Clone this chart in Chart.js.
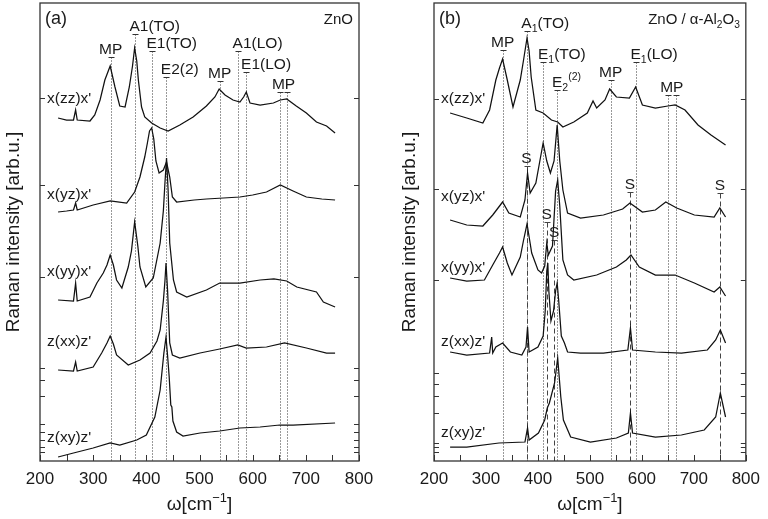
<!DOCTYPE html>
<html>
<head>
<meta charset="utf-8">
<script src="https://cdn.jsdelivr.net/npm/chart.js@4.4.0/dist/chart.umd.min.js"></script>
<style>
body { margin: 0; background: #fff; width: 768px; height: 519px; position: relative; overflow: hidden; }
.panel { position: absolute; top: 0; width: 384px; height: 519px; }
</style>
</head>
<body>
<div class="panel" style="left:0"><canvas id="chartA" width="384" height="519"></canvas></div>
<div class="panel" style="left:384px"><canvas id="chartB" width="384" height="519"></canvas></div>
<script>
// spectra: [wavenumber cm-1, intensity arb.u. (offset per trace)]
const a_zz = [[234,343],[250,341],[263,341],[267,351],[270,341],[294,340],[303,346],[313,361],[322,381],[332,395],[341,374],[350,355],[360,354],[368,374],[374,395],[378,413],[382,400],[385,381],[391,354],[397,344],[410,338],[426,333],[441,330],[463,336],[488,344],[513,355],[529,364],[537,372],[548,366],[563,361],[576,359],[583,364],[588,369],[595,358],[614,356],[639,358],[652,361],[664,362],[682,355],[701,348],[720,339],[739,335],[755,328]];
const a_yz = [[234,249],[250,250],[263,251],[267,258],[270,251],[300,256],[332,260],[363,258],[378,269],[388,284],[397,304],[402,318],[406,330],[410,333],[414,322],[418,300],[424,288],[432,291],[438,299],[444,284],[449,264],[457,259],[490,261],[513,262],[545,263],[576,264],[600,266],[626,269],[652,276],[676,270],[701,264],[730,262],[755,261]];
const a_yy = [[234,161],[263,160],[267,178],[270,160],[294,164],[307,178],[319,188],[326,196],[332,206],[338,196],[344,181],[354,173],[366,194],[372,210],[378,239],[384,215],[388,194],[399,174],[413,183],[426,218],[432,250],[435,278],[438,303],[441,270],[444,218],[451,181],[457,169],[476,164],[513,171],[538,178],[576,178],[614,181],[640,182],[664,180],[683,174],[720,169],[733,159],[755,154]];
const a_xx = [[234,91],[263,90],[267,99],[270,90],[300,94],[316,108],[326,118],[332,125],[338,117],[344,106],[366,96],[388,101],[407,108],[420,120],[426,131],[432,160],[435,180],[437,198],[440,170],[444,118],[449,106],[463,103],[501,108],[538,112],[572,116],[588,113],[626,114],[660,118],[701,113],[739,108],[755,108]];
const a_xy = [[234,4],[263,8],[300,13],[332,18],[350,16],[382,21],[400,26],[416,44],[426,71],[433,108],[437,124],[440,105],[443,84],[446,56],[448,54],[450,40],[457,29],[469,25],[501,28],[538,30],[576,33],[614,34],[651,36],[676,36],[755,38]];

const b_zz = [[231,348],[263,343],[294,338],[307,351],[319,381],[326,393],[332,402],[341,381],[352,354],[366,381],[372,400],[379,423],[383,410],[387,384],[396,351],[410,348],[426,341],[438,339],[448,334],[469,339],[495,348],[506,360],[513,353],[529,361],[538,372],[551,364],[576,363],[588,374],[601,356],[626,353],[650,355],[664,356],[683,351],[708,336],[733,326],[761,316]];
const b_yz = [[231,241],[263,236],[294,235],[313,246],[332,259],[344,248],[366,244],[375,261],[380,288],[385,268],[396,278],[404,301],[410,318],[417,300],[424,288],[431,300],[437,336],[442,300],[448,271],[457,248],[482,243],[526,246],[563,252],[577,258],[601,249],[626,251],[646,259],[667,253],[701,246],[739,244],[750,253],[761,244]];
const b_yy = [[231,183],[263,180],[297,181],[313,196],[326,208],[332,214],[341,198],[350,186],[366,204],[372,220],[379,237],[384,221],[388,208],[400,191],[407,188],[413,195],[417,218],[420,206],[428,215],[434,270],[438,281],[442,255],[448,201],[457,186],[469,181],[513,186],[551,194],[570,201],[579,206],[595,194],[626,186],[664,186],[701,178],[739,169],[750,174],[761,165]];
const b_xx = [[231,109],[263,106],[307,108],[311,124],[313,108],[319,114],[332,118],[347,109],[369,106],[377,114],[380,134],[383,109],[400,114],[410,125],[414,150],[417,190],[419,198],[421,170],[425,140],[430,150],[434,170],[437,178],[440,160],[445,125],[451,118],[457,109],[482,108],[526,108],[573,111],[578,133],[582,111],[626,109],[676,108],[726,111],[742,121],[751,131],[761,118]];
const b_xy = [[231,14],[263,14],[325,18],[375,19],[380,33],[383,21],[401,28],[413,41],[418,53],[422,58],[432,78],[438,103],[444,64],[449,41],[463,24],[501,19],[551,23],[574,28],[578,48],[582,28],[626,24],[676,26],[720,31],[742,44],[751,68],[761,44]];

const traceNames = ["x(zz)x'", "x(yz)x'", "x(yy)x'", "z(xx)z'", "z(xy)z'"];
const aTraceLevels = [362, 266, 189, 119, 23];
const bTraceLevels = [362, 264, 193, 119, 28];

// phonon mode markers (dotted) and substrate lines (dashed)
const aModeLines = [333, 378, 410, 437, 538, 572, 588, 652, 664];
const aModeTops = [404, 427, 410, 384, 380, 410, 389, 369, 369];
const aModeNames = ['MP', 'A1(TO)', 'E1(TO)', 'E2(2)', 'MP', 'A1(LO)', 'E1(LO)', 'MP'];
const aNameAt = [333, 378, 410, 437, 538, 572, 588, 658];
const aNameTops = [404, 427, 410, 384, 380, 410, 389, 369];

const bModeLines = [332, 378, 410, 437, 540, 588, 650, 665];
const bModeTops = [411, 430, 399, 371, 381, 399, 366, 366];
const bModeNames = ['MP', 'A_1(TO)', 'E_1(TO)', 'E_2^{(2)}', 'MP', 'E_1(LO)', 'MP'];
const bNameAt = [332, 378, 410, 437, 540, 588, 657.5];
const bNameTops = [411, 430, 399, 371, 381, 399, 366];
const bSubLines = [378, 417, 431, 577, 750];
const bSubTops = [295, 239, 221, 269, 268];

const xTickValues = [200, 300, 400, 500, 600, 700, 800];
const aYTicks = [363, 276, 184, 93, 81, 65, 37, 29, 21, 14, 9];
const bYTicks = [362, 272, 181, 88, 77, 65, 48, 18, 14, 9];

const FONT = '"Liberation Sans", Arial, Helvetica, sans-serif';
const INK = '#1a1a1a';

function drawRich(ctx, str, x, y, size, align) {
    const segs = [];
    let i = 0;
    while (i < str.length) {
        const c = str[i];
        if (c === '_') {
            segs.push({ t: str[i + 1], mode: 'sub' });
            i += 2;
        } else if (c === '^') {
            const end = str.indexOf('}', i);
            segs.push({ t: str.slice(i + 2, end), mode: 'sup' });
            i = end + 1;
        } else {
            let j = i;
            while (j < str.length && str[j] !== '_' && str[j] !== '^') j++;
            segs.push({ t: str.slice(i, j), mode: 'n' });
            i = j;
        }
    }
    let total = 0;
    segs.forEach(s => {
        s.size = s.mode === 'n' ? size : size * 0.68;
        ctx.font = s.size + 'px ' + FONT;
        s.w = ctx.measureText(s.t).width;
        total += s.w;
    });
    let cx = x;
    if (align === 'center') cx = x - total / 2;
    else if (align === 'right') cx = x - total;
    else if (align === 'first') {
        ctx.font = size + 'px ' + FONT;
        cx = x - ctx.measureText(segs[0].t[0]).width / 2;
    }
    ctx.textAlign = 'left';
    ctx.textBaseline = 'alphabetic';
    segs.forEach(s => {
        ctx.font = s.size + 'px ' + FONT;
        const dy = s.mode === 'sub' ? size * 0.25 : s.mode === 'sup' ? -size * 0.42 : 0;
        ctx.fillText(s.t, cx, y + dy);
        cx += s.w;
    });
}

function panelDecor(p) {
    return {
        id: 'panelDecor',
        beforeDatasetsDraw(chart) {
            const { ctx, chartArea: area, scales: { x, y } } = chart;
            ctx.save();
            ctx.lineWidth = 1;
            // dotted mode lines
            ctx.strokeStyle = '#333';
            p.lines.forEach((w, i) => {
                const px = Math.round(x.getPixelForValue(w)) + 0.5;
                const top = Math.round(y.getPixelForValue(p.tops[i])) + 0.5;
                ctx.setLineDash([1, 2]);
                ctx.beginPath(); ctx.moveTo(px, top); ctx.lineTo(px, area.bottom); ctx.stroke();
                ctx.setLineDash([]);
                ctx.beginPath(); ctx.moveTo(px - 3, top); ctx.lineTo(px + 3, top); ctx.stroke();
            });
            // dashed substrate lines
            ctx.strokeStyle = '#444';
            (p.subLines || []).forEach((w, i) => {
                const px = Math.round(x.getPixelForValue(w)) + 0.5;
                const top = Math.round(y.getPixelForValue(p.subTops[i])) + 0.5;
                ctx.setLineDash([5, 3]);
                ctx.beginPath(); ctx.moveTo(px, top); ctx.lineTo(px, area.bottom); ctx.stroke();
                ctx.setLineDash([]);
                ctx.beginPath(); ctx.moveTo(px - 3, top); ctx.lineTo(px + 3, top); ctx.stroke();
            });
            ctx.restore();
        },
        afterDraw(chart) {
            const { ctx, chartArea: area, scales: { x, y } } = chart;
            ctx.save();
            // frame
            ctx.strokeStyle = '#333';
            ctx.lineWidth = 1.3;
            ctx.strokeRect(area.left, area.top, area.right - area.left, area.bottom - area.top);
            // inward ticks
            ctx.lineWidth = 1;
            ctx.beginPath();
            for (let w = x.min; w <= x.max; w += 50) {
                const px = Math.round(x.getPixelForValue(w)) + 0.5;
                ctx.moveTo(px, area.bottom); ctx.lineTo(px, area.bottom - 6);
            }
            p.yTicks.forEach(v => {
                const py = Math.round(y.getPixelForValue(v)) + 0.5;
                ctx.moveTo(area.left, py); ctx.lineTo(area.left + 5, py);
                ctx.moveTo(area.right, py); ctx.lineTo(area.right - 5, py);
            });
            ctx.stroke();

            ctx.fillStyle = INK;
            // mode labels
            p.names.forEach((name, i) => {
                const px = x.getPixelForValue(p.nameAt[i]);
                const py = y.getPixelForValue(p.nameTops[i]) - 3;
                drawRich(ctx, name, px, py, 15.5, name === 'MP' ? 'center' : 'first');
            });
            (p.subLines || []).forEach((w, i) => {
                drawRich(ctx, 'S', x.getPixelForValue(w), y.getPixelForValue(p.subTops[i]) - 3, 15.5, 'center');
            });
            // trace labels
            traceNames.forEach((name, i) => {
                ctx.font = '15.5px ' + FONT;
                ctx.textAlign = 'left';
                ctx.textBaseline = 'middle';
                ctx.fillText(name, area.left + 7, y.getPixelForValue(p.levels[i]));
            });
            // panel tag and sample
            ctx.font = '18px ' + FONT;
            ctx.textBaseline = 'middle';
            ctx.fillText(p.tag, area.left + 5, area.top + 16);
            drawRich(ctx, p.sample, area.right - 6, area.top + 21, 15, 'right');
            // x title
            drawRich(ctx, 'ω[cm^{−1}]', (area.left + area.right) / 2, 510, 19, 'center');
            ctx.restore();
        }
    };
}

function makeChart(id, traces, p) {
    return new Chart(document.getElementById(id), {
        type: 'line',
        data: {
            datasets: traces.map(t => ({
                data: t.map(([w, v]) => ({ x: w, y: v })),
                borderColor: '#111',
                borderWidth: 1.25,
                pointRadius: 0,
                tension: 0,
                fill: false
            }))
        },
        options: {
            responsive: false,
            animation: false,
            events: [],
            layout: { padding: { left: 0, top: 3, right: p.padRight, bottom: 0 } },
            plugins: { legend: { display: false }, tooltip: { enabled: false } },
            scales: {
                x: {
                    type: 'linear', min: 200, max: 800,
                    grid: { display: false, drawTicks: false },
                    border: { display: false },
                    afterBuildTicks: s => { s.ticks = xTickValues.map(v => ({ value: v })); },
                    ticks: { padding: 8, maxRotation: 0, color: INK, font: { family: FONT, size: 17 } },
                    afterFit: s => { s.height = 58; }
                },
                y: {
                    min: 0, max: 458,
                    grid: { display: false, drawTicks: false },
                    border: { display: false },
                    ticks: { display: false },
                    title: {
                        display: true, text: 'Raman intensity [arb.u.]', color: INK,
                        font: { family: FONT, size: 19 },
                        padding: { top: p.titlePad, bottom: 0 }
                    },
                    afterFit: s => { s.width = p.yWidth; }
                }
            }
        },
        plugins: [panelDecor(p)]
    });
}

makeChart('chartA', [a_zz, a_yz, a_yy, a_xx, a_xy], {
    padRight: 25, yWidth: 40, titlePad: 2.6,
    lines: aModeLines, tops: aModeTops, names: aModeNames, nameAt: aNameAt, nameTops: aNameTops,
    levels: aTraceLevels, yTicks: aYTicks, tag: '(a)', sample: 'ZnO'
});

makeChart('chartB', [b_zz, b_yz, b_yy, b_xx, b_xy], {
    padRight: 15, yWidth: 50, titlePad: 14.6,
    lines: bModeLines, tops: bModeTops, names: bModeNames, nameAt: bNameAt, nameTops: bNameTops,
    subLines: bSubLines, subTops: bSubTops,
    levels: bTraceLevels, yTicks: bYTicks, tag: '(b)', sample: 'ZnO / α-Al_2O_3'
});
</script>
</body>
</html>
